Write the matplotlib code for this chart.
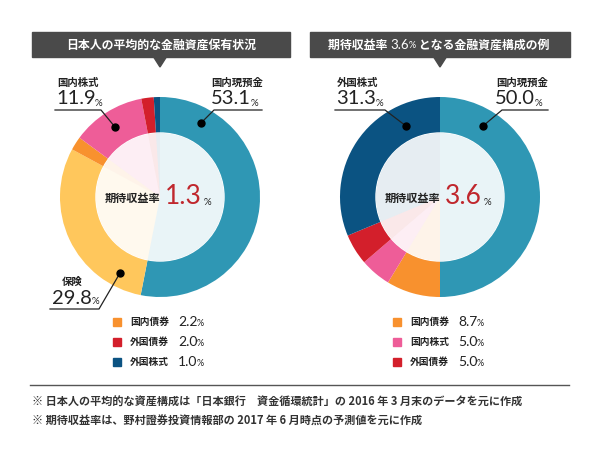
import numpy as np
import matplotlib.pyplot as plt
from matplotlib.colors import to_rgba
from matplotlib.patches import Rectangle, Polygon

plt.rcParams['font.family'] = ['Noto Sans CJK JP', 'DejaVu Sans']

# --- データ ---
left_labels = ["国内現預金", "保険", "国内債券", "国内株式", "外国債券", "外国株式"]
left_values = [53.1, 29.8, 2.2, 11.9, 2.0, 1.0]
left_colors = ["#2f97b4", "#ffc75c", "#f8912e", "#ee5d98", "#d31f2b", "#0b5382"]

right_labels = ["国内現預金", "国内債券", "国内株式", "外国債券", "外国株式"]
right_values = [50.0, 8.7, 5.0, 5.0, 31.3]
right_colors = ["#2f97b4", "#f8912e", "#ee5d98", "#d31f2b", "#0b5382"]

# 凡例に出す項目 (index)
left_legend = [2, 4, 5]
right_legend = [1, 2, 3]

left_rate = "1.3"
right_rate = "3.6"

left_title = "日本人の平均的な金融資産保有状況"
right_title = ["期待収益率 ", "3.6", "%", " となる金融資産構成の例"]

notes = ["※ 日本人の平均的な資産構成は「日本銀行　資金循環統計」の 2016 年 3 月末のデータを元に作成",
         "※ 期待収益率は、野村證券投資情報部の 2017 年 6 月時点の予測値を元に作成"]

NUM_FONT = ['Lato', 'DejaVu Sans']
RED = "#c0272d"
DARK = "#222222"

fig = plt.figure(figsize=(6, 4.5), dpi=100)
ax = fig.add_axes([0, 0, 1, 1])


def donut(cx, cy, values, colors):
    ax.pie(values, colors=colors, radius=100, center=(cx, cy), startangle=-90,
           counterclock=True, wedgeprops=dict(linewidth=0, zorder=1))
    # 白い下地の上に薄い色の内側
    ax.add_patch(plt.Circle((cx, cy), 64, color='white', zorder=1.5))
    pale = [to_rgba(c, 0.1) for c in colors]
    ax.pie(values, colors=pale, radius=64, center=(cx, cy), startangle=-90,
           counterclock=True, wedgeprops=dict(linewidth=0, zorder=2))


def header_box(x0, x1, tip):
    ax.add_patch(Rectangle((x0, 32), x1 - x0, 25, color="#4a4a4a", zorder=3))
    ax.add_patch(Polygon([(tip - 7, 56), (tip + 7, 56), (tip, 67)], color="#4a4a4a", zorder=3))


def pct(t, size=7, dx=-0.5, dy=0, z=6, color=DARK):
    return ax.annotate("%", xy=(1, 0), xycoords=t, xytext=(dx, dy), textcoords='offset points',
                       fontsize=size, color=color, ha='left', va='bottom', zorder=z,
                       family=NUM_FONT)


def callout(name, val, name_xy, name_ha, val_x, val_ha, line, dot):
    ax.text(name_xy[0], name_xy[1], name, fontsize=7.5, fontweight='bold', color=DARK,
            ha=name_ha, va='center')
    t = ax.text(val_x, name_xy[1] + 16, val, fontsize=14.5, family=NUM_FONT,
                color=DARK, ha=val_ha, va='center')
    pct(t)
    xs, ys = zip(*line)
    ax.plot(xs, ys, color=DARK, lw=0.9, zorder=5)
    ax.plot(*dot, 'o', color='black', ms=5, zorder=6)


def center_text(cx, cy, rate):
    ax.text(cx - 3, cy + 1, "期待収益率", fontsize=8, fontweight='bold', color=DARK,
            ha='right', va='center', zorder=5)
    t = ax.text(cx + 2, cy, rate, fontsize=19, family=NUM_FONT, color=RED,
                ha='left', va='center', zorder=5)
    pct(t, dx=1, dy=2)


def legend(x, y0, idx, labels, values, colors):
    for i, k in enumerate(idx):
        y = y0 + i * 20
        ax.add_patch(Rectangle((x, y - 4), 8, 8, color=colors[k]))
        ax.text(x + 17, y, labels[k], fontsize=7, fontweight='bold', color=DARK,
                ha='left', va='center')
        t = ax.text(x + 65, y, f"{values[k]:.1f}", fontsize=10, family=NUM_FONT, color=DARK,
                    ha='left', va='center')
        pct(t, size=6.5)


donut(160, 197, left_values, left_colors)
donut(440, 197, right_values, right_colors)

header_box(32, 290, 160)
ax.text(161, 45, left_title, color='white', fontsize=8.6, fontweight='bold',
        ha='center', va='center', zorder=4)
header_box(310, 570, 440)
t = ax.text(328, 45, right_title[0], color='white', fontsize=8.6, fontweight='bold',
            ha='left', va='center', zorder=4)
t = ax.annotate(right_title[1], xy=(1, 0.5), xycoords=t, xytext=(0, 0),
                textcoords='offset points', color='white', fontsize=9.5, family=NUM_FONT,
                ha='left', va='center', zorder=4)
t = pct(t, size=6.5, dx=0, dy=1, color='white')
ax.annotate(right_title[3], xy=(1, 0), xycoords=t, xytext=(0, -1.5),
            textcoords='offset points', color='white', fontsize=8.6, fontweight='bold',
            ha='left', va='bottom', zorder=4)

center_text(163, 197, left_rate)
center_text(443, 197, right_rate)

callout(left_labels[3], f"{left_values[3]:.1f}", (57, 83), 'left', 56, 'left',
        [(55, 110), (101, 110), (115, 127)], (115, 127))
callout(left_labels[0], f"{left_values[0]:.1f}", (263, 83), 'right', 251, 'right',
        [(262, 110), (214, 110), (201, 123)], (201, 123))
callout(left_labels[1], f"{left_values[1]:.1f}", (72, 282), 'center', 52, 'left',
        [(50, 309), (99, 309), (120, 273)], (120, 273))
callout(right_labels[4], f"{right_values[4]:.1f}", (337, 83), 'left', 336, 'left',
        [(335, 110), (385, 110), (406, 126)], (406, 126))
callout(right_labels[0], f"{right_values[0]:.1f}", (548, 83), 'right', 535, 'right',
        [(548, 110), (502, 110), (483, 126)], (483, 126))

legend(113, 322, left_legend, left_labels, left_values, left_colors)
legend(393, 322, right_legend, right_labels, right_values, right_colors)

ax.plot([30, 569], [385, 385], color="#555555", lw=1)
for i, n in enumerate(notes):
    ax.text(32, 402 + i * 19, n, fontsize=8, fontweight='bold', color="#333333",
            ha='left', va='center')

ax.set_xlim(0, 600)
ax.set_ylim(450, 0)
ax.set_aspect('auto')
ax.axis('off')

fig.savefig("out.png", dpi=100, facecolor='white')
